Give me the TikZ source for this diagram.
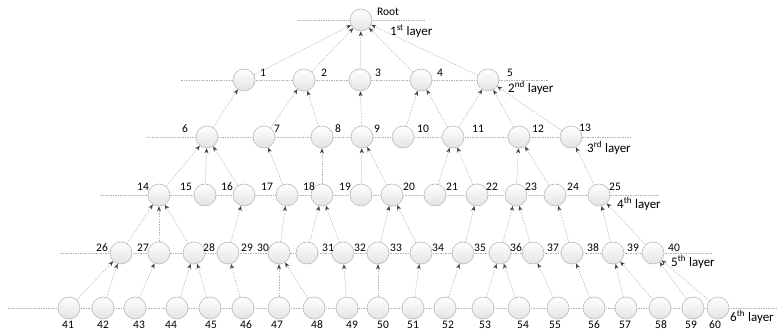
\documentclass[tikz,border=0pt]{standalone}
\usepackage{fontspec}
\setmainfont{Carlito}
\usetikzlibrary{arrows.meta}

\tikzset{
  nd/.style={circle, minimum size=22pt, inner sep=0pt, draw=gray!55, line width=0.6pt, top color=white, bottom color=gray!22},
  num/.style={font=\fontsize{11.5}{13}\selectfont, inner sep=0pt},
  lay/.style={font=\fontsize{13}{15}\selectfont, inner sep=0pt, anchor=west},
  edge/.style={draw=gray!60, line width=0.5pt, dash pattern=on 1.5pt off 1.2pt, -{Stealth[length=5pt,width=4pt,color=black!75]}},
  lvl/.style={draw=gray!60, line width=0.6pt, dash pattern=on 1.5pt off 1pt},
}

\begin{document}
\begin{tikzpicture}[x=1pt,y=-1pt]
\useasboundingbox (0,0) rectangle (777,334);
% layer lines
\draw[lvl] (298,20) -- (425,20);
\draw[lvl] (181,80) -- (548,80);
\draw[lvl] (147,137) -- (632,137);
\draw[lvl] (100,195) -- (658,195);
\draw[lvl] (60,253) -- (712,253);
\draw[lvl] (8,308) -- (777,308);
% 1st layer
\node[nd] (n0) at (361,20) {};
\node[num] (t0) at (388,12) {Root};
% 2nd layer
\node[nd] (n1) at (244,80) {};
\node[nd] (n2) at (304,80) {};
\node[nd] (n3) at (360,80) {};
\node[nd] (n4) at (421,80) {};
\node[nd] (n5) at (488,80) {};
% 3rd layer
\node[nd] (n6) at (207,137) {};
\node[nd] (n7) at (264,137) {};
\node[nd] (n8) at (322,137) {};
\node[nd] (n9) at (362,137) {};
\node[nd] (n10) at (403,137) {};
\node[nd] (n11) at (453,137) {};
\node[nd] (n12) at (519,137) {};
\node[nd] (n13) at (571,137) {};
% 4th layer
\node[nd] (n14) at (159,195) {};
\node[nd] (n15) at (205,195) {};
\node[nd] (n16) at (244,195) {};
\node[nd] (n17) at (287,195) {};
\node[nd] (n18) at (322,195) {};
\node[nd] (n19) at (361,195) {};
\node[nd] (n20) at (392,195) {};
\node[nd] (n21) at (435,195) {};
\node[nd] (n22) at (477,195) {};
\node[nd] (n23) at (516,195) {};
\node[nd] (n24) at (555,195) {};
\node[nd] (n25) at (599,195) {};
% 5th layer
\node[nd] (n26) at (121,253) {};
\node[nd] (n27) at (159,253) {};
\node[nd] (n28) at (194,253) {};
\node[nd] (n29) at (228,253) {};
\node[nd] (n30) at (279,253) {};
\node[nd] (n31) at (307,253) {};
\node[nd] (n32) at (343,253) {};
\node[nd] (n33) at (378,253) {};
\node[nd] (n34) at (421,253) {};
\node[nd] (n35) at (463,253) {};
\node[nd] (n36) at (500,253) {};
\node[nd] (n37) at (533,253) {};
\node[nd] (n38) at (572,253) {};
\node[nd] (n39) at (613,253) {};
\node[nd] (n40) at (653,253) {};
% 6th layer
\node[nd] (n41) at (69,308) {};
\node[nd] (n42) at (103,308) {};
\node[nd] (n43) at (135,308) {};
\node[nd] (n44) at (177,308) {};
\node[nd] (n45) at (210,308) {};
\node[nd] (n46) at (243,308) {};
\node[nd] (n47) at (279,308) {};
\node[nd] (n48) at (314,308) {};
\node[nd] (n49) at (347,308) {};
\node[nd] (n50) at (378,308) {};
\node[nd] (n51) at (413,308) {};
\node[nd] (n52) at (445,308) {};
\node[nd] (n53) at (483,308) {};
\node[nd] (n54) at (519,308) {};
\node[nd] (n55) at (558,308) {};
\node[nd] (n56) at (594,308) {};
\node[nd] (n57) at (626,308) {};
\node[nd] (n58) at (660,308) {};
\node[nd] (n59) at (693,308) {};
\node[nd] (n60) at (718,308) {};
% numbers
\node[num] (t1) at (263,73) {1};
\node[num] (t2) at (324,73) {2};
\node[num] (t3) at (378,73) {3};
\node[num] (t4) at (440,73) {4};
\node[num] (t5) at (510,73) {5};
\node[num] (t6) at (185,129) {6};
\node[num] (t7) at (277,129) {7};
\node[num] (t8) at (338,129) {8};
\node[num] (t9) at (377,129) {9};
\node[num] (t10) at (423,129) {10};
\node[num] (t11) at (478,129) {11};
\node[num] (t12) at (538,129) {12};
\node[num] (t13) at (585,128) {13};
\node[num] (t14) at (143,187) {14};
\node[num] (t15) at (186,187) {15};
\node[num] (t16) at (227,187) {16};
\node[num] (t17) at (267,187) {17};
\node[num] (t18) at (309,187) {18};
\node[num] (t19) at (345,187) {19};
\node[num] (t20) at (409,187) {20};
\node[num] (t21) at (452,187) {21};
\node[num] (t22) at (492,187) {22};
\node[num] (t23) at (531,187) {23};
\node[num] (t24) at (573,187) {24};
\node[num] (t25) at (615,187) {25};
\node[num] (t26) at (102,248) {26};
\node[num] (t27) at (143,248) {27};
\node[num] (t28) at (209,248) {28};
\node[num] (t29) at (247,248) {29};
\node[num] (t30) at (263,248) {30};
\node[num] (t31) at (328,248) {31};
\node[num] (t32) at (360,248) {32};
\node[num] (t33) at (396,248) {33};
\node[num] (t34) at (438,248) {34};
\node[num] (t35) at (480,248) {35};
\node[num] (t36) at (516,248) {36};
\node[num] (t37) at (553,248) {37};
\node[num] (t38) at (593,248) {38};
\node[num] (t39) at (633,248) {39};
\node[num] (t40) at (674,248) {40};
\node[num] (t41) at (68,325) {41};
\node[num] (t42) at (103,325) {42};
\node[num] (t43) at (139,325) {43};
\node[num] (t44) at (171,325) {44};
\node[num] (t45) at (211,325) {45};
\node[num] (t46) at (246,325) {46};
\node[num] (t47) at (277,325) {47};
\node[num] (t48) at (317,325) {48};
\node[num] (t49) at (352,325) {49};
\node[num] (t50) at (383,325) {50};
\node[num] (t51) at (413,325) {51};
\node[num] (t52) at (448,325) {52};
\node[num] (t53) at (485,325) {53};
\node[num] (t54) at (523,325) {54};
\node[num] (t55) at (555,325) {55};
\node[num] (t56) at (594,325) {56};
\node[num] (t57) at (625,325) {57};
\node[num] (t58) at (661,325) {58};
\node[num] (t59) at (691,325) {59};
\node[num] (t60) at (715,325) {60};
% layer names
\node[lay] (lay1) at (390,31) {1\textsuperscript{st} layer};
\node[lay] (lay2) at (508,88) {2\textsuperscript{nd} layer};
\node[lay] (lay3) at (587,148) {3\textsuperscript{rd} layer};
\node[lay] (lay4) at (617,204) {4\textsuperscript{th} layer};
\node[lay] (lay5) at (671,262) {5\textsuperscript{th} layer};
\node[lay] (lay6) at (730,317) {6\textsuperscript{th} layer};
% edges, child to parent
\draw[edge] (n1) -- (n0);
\draw[edge] (n2) -- (n0);
\draw[edge] (n3) -- (n0);
\draw[edge] (n4) -- (n0);
\draw[edge] (n5) -- (n0);
\draw[edge] (n6) -- (n1);
\draw[edge] (n7) -- (n2);
\draw[edge] (n8) -- (n2);
\draw[edge] (n9) -- (n3);
\draw[edge] (n10) -- (n4);
\draw[edge] (n11) -- (n4);
\draw[edge] (n11) -- (n5);
\draw[edge] (n12) -- (n5);
\draw[edge] (n13) -- (n5);
\draw[edge] (n14) -- (n6);
\draw[edge] (n15) -- (n6);
\draw[edge] (n16) -- (n6);
\draw[edge] (n17) -- (n7);
\draw[edge] (n18) -- (n8);
\draw[edge] (n19) -- (n9);
\draw[edge] (n20) -- (n9);
\draw[edge] (n21) -- (n11);
\draw[edge] (n22) -- (n11);
\draw[edge] (n23) -- (n12);
\draw[edge] (n24) -- (n12);
\draw[edge] (n25) -- (n13);
\draw[edge] (n26) -- (n14);
\draw[edge] (n27) -- (n14);
\draw[edge] (n28) -- (n14);
\draw[edge] (n29) -- (n16);
\draw[edge] (n30) -- (n17);
\draw[edge] (n31) -- (n18);
\draw[edge] (n32) -- (n18);
\draw[edge] (n33) -- (n20);
\draw[edge] (n34) -- (n20);
\draw[edge] (n35) -- (n22);
\draw[edge] (n36) -- (n23);
\draw[edge] (n37) -- (n23);
\draw[edge] (n38) -- (n24);
\draw[edge] (n39) -- (n25);
\draw[edge] (n40) -- (n25);
\draw[edge] (n41) -- (n26);
\draw[edge] (n42) -- (n26);
\draw[edge] (n43) -- (n27);
\draw[edge] (n44) -- (n28);
\draw[edge] (n45) -- (n28);
\draw[edge] (n46) -- (n29);
\draw[edge] (n47) -- (n30);
\draw[edge] (n48) -- (n30);
\draw[edge] (n49) -- (n32);
\draw[edge] (n50) -- (n33);
\draw[edge] (n51) -- (n34);
\draw[edge] (n52) -- (n35);
\draw[edge] (n53) -- (n36);
\draw[edge] (n54) -- (n36);
\draw[edge] (n55) -- (n37);
\draw[edge] (n56) -- (n38);
\draw[edge] (n57) -- (n39);
\draw[edge] (n58) -- (n39);
\draw[edge] (n59) -- (n40);
\draw[edge] (n60) -- (n40);
\end{tikzpicture}
\end{document}
